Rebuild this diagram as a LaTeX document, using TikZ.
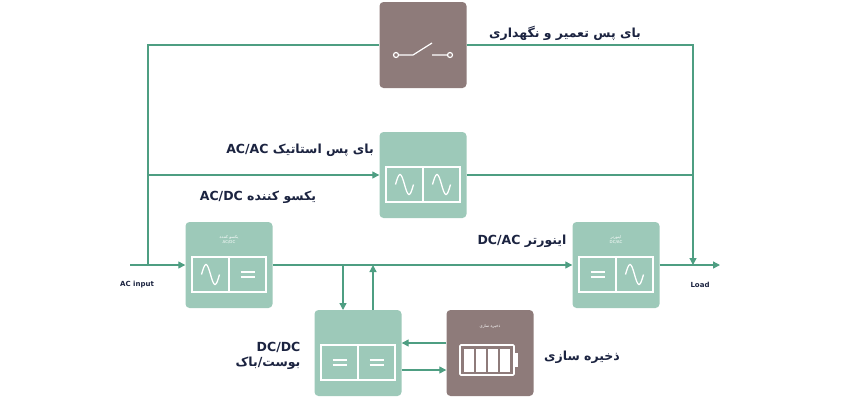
\documentclass[tikz,border=0pt]{standalone}
\usepackage{fontspec}
\setmainfont{DejaVu Sans}
\newfontfamily\fa[Script=Arabic]{DejaVu Sans}
\usetikzlibrary{arrows.meta, positioning}
\TeXXeTstate=1
\newcommand{\fatext}[1]{{\fa\beginR #1\endR}}
\definecolor{linegreen}{HTML}{4E9E82}
\definecolor{boxgreen}{HTML}{9DC9B9}
\definecolor{boxbrown}{HTML}{8E7B7A}
\definecolor{textnavy}{HTML}{1B2340}

\tikzset{
  unit/.style={rounded corners=4pt, minimum width=87pt, minimum height=86pt, inner sep=0pt},
  greenbox/.style={unit, fill=boxgreen},
  brownbox/.style={unit, fill=boxbrown},
  flow/.style={draw=linegreen, line width=1.3pt},
  lbl/.style={text=textnavy, font=\bfseries\fontsize{12.5}{15}\selectfont},
  tiny/.style={text=white, font=\fontsize{4}{5}\selectfont, align=center},
  pics/sine/.style={code={\draw[white, line width=1.3pt] (-9,0) sin (-4.5,-10) cos (0,0) sin (4.5,10) cos (9,0);}},
  pics/eq/.style={code={\draw[white, line width=1.5pt] (-7,-2.5) -- (7,-2.5) (-7,2.5) -- (7,2.5);}},
}

\begin{document}
\begin{tikzpicture}[x=1pt, y=-1pt, >={Triangle[length=7pt, width=7pt]}]
\useasboundingbox (0,0) rectangle (850,400);

% units
\node[brownbox] (mbp) at (423,45) {};
\node[greenbox] (sbp) at (423,175) {};
\node[greenbox] (rect) at (229,265) {};
\node[greenbox] (inv) at (616,265) {};
\node[greenbox] (dcdc) at (358,353) {};
\node[brownbox] (bat) at (490,353) {};

% switch symbol
\draw[white, line width=1.2pt] (396,55) circle (2.5) (450,55) circle (2.5);
\draw[white, line width=1.2pt] (398.5,55) -- (413,55) -- (432,43) (432,55) -- (447.5,55);

% inner frames and symbols
\foreach \u/\a/\b in {sbp/sine/sine, rect/sine/eq, inv/eq/sine, dcdc/eq/eq}{
  \draw[white, line width=1.4pt] ([xshift=-37pt, yshift=8pt]\u.center) rectangle ([xshift=37pt, yshift=-27pt]\u.center);
  \draw[white, line width=1.4pt] ([yshift=8pt]\u.center) -- ([yshift=-27pt]\u.center);
  \pic at ([xshift=-18.5pt, yshift=-9.5pt]\u.center) {\a};
  \pic at ([xshift=18.5pt, yshift=-9.5pt]\u.center) {\b};
}

% battery
\draw[white, line width=1.6pt, rounded corners=1pt] (460,345) rectangle (514,375);
\fill[white] (514,353) rectangle (518,367);
\foreach \i in {0,1,2,3}
  \fill[white] (463.5+12.3*\i,348.5) rectangle (473.5+12.3*\i,371.5);

% tiny labels
\node[tiny] at (229,240) {\fatext{یکسو کننده}\\AC/DC};
\node[tiny] at (616,240) {\fatext{اینورتر}\\DC/AC};
\node[tiny] at (490,326) {\fatext{ذخیره سازی}};

% coordinates
\coordinate (in) at (130,265);
\coordinate (tap) at (148,265);
\coordinate (load) at (720,265);
\coordinate (join) at (693,265);

% flows
\draw[flow, ->] (in) -- (rect.west);
\draw[flow, ->] (rect.east) -- (inv.west);
\draw[flow, ->] (inv.east) -- (load);
\draw[flow] (tap) |- (mbp.west);
\draw[flow, ->] (mbp.east) -| (join);
\draw[flow, ->] (148,175) -- (sbp.west);
\draw[flow] (sbp.east) -- (693,175);
\draw[flow, ->] (343,265) -- (343,310);
\draw[flow, ->] (373,310) -- (373,265);
\draw[flow, ->] (bat.west |- 0,343) -- (dcdc.east |- 0,343);
\draw[flow, ->] (dcdc.east |- 0,370) -- (bat.west |- 0,370);

% labels
\node[lbl, font=\bfseries\fontsize{7}{8}\selectfont] at (137,285) {AC input};
\node[lbl, font=\bfseries\fontsize{7}{8}\selectfont] at (700,285) {Load};
\node[lbl] at (565,33) {\fatext{بای پس تعمیر و نگهداری}};
\node[lbl] at (300,150) {AC/AC \fatext{بای پس استاتیک}};
\node[lbl] at (258,197) {AC/DC \fatext{یکسو کننده}};
\node[lbl] at (522,241) {DC/AC \fatext{اینورتر}};
\node[lbl, align=right] at (268,356) {DC/DC\\\fatext{بوست/باک}};
\node[lbl] at (582,357) {\fatext{ذخیره سازی}};
\end{tikzpicture}
\end{document}
